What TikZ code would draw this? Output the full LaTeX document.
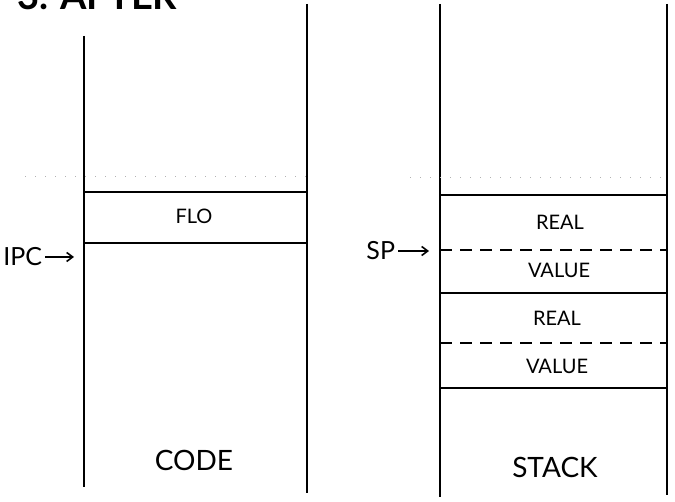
\documentclass[tikz,border=0pt]{standalone}
\usepackage{fontspec}
\setmainfont{Lato}
\usepackage{tikz}
\usetikzlibrary{arrows.meta, positioning}

\begin{document}
\begin{tikzpicture}[x=1pt, y=-1pt, line width=2pt,
        lbl/.style={font=\fontsize{20}{21}\selectfont},
        big/.style={font=\fontsize{28}{29}\selectfont},
        reg/.style={font=\fontsize{25}{26}\selectfont, anchor=east, inner sep=0pt},
        sep/.style={line width=2pt},
        half/.style={line width=2pt, dash pattern=on 12pt off 8pt},
        faint/.style={line width=0.6pt, gray!60, dash pattern=on 1pt off 9pt},
        ptr/.style={-{Straight Barb[length=6pt, width=9pt]}, line width=1.6pt}]
        \useasboundingbox (0,0) rectangle (675,502);
        \node[anchor=base west, font=\bfseries\fontsize{38}{38}\selectfont, inner sep=0pt] (title) at (16,10) {3. AFTER};

        % code
        \coordinate (c1) at (84,36);  \coordinate (c2) at (84,487);
        \coordinate (c3) at (307,4);  \coordinate (c4) at (307,493);
        \draw (c1) -- (c2);
        \draw (c3) -- (c4);
        \draw[faint] (25,176) -- (307,176);
        \draw[sep] (84,192) -- (307,192);
        \draw[sep] (84,243) -- (307,243);
        \node[lbl] (flo) at (194,216) {FLO};
        \node[reg] (ipc) at (43,257) {IPC};
        \coordinate (ipctip) at (74,257);
        \draw[ptr] (ipc.east) ++(2,0) -- (ipctip);
        \node[big] (code) at (194,460) {CODE};

        % stack
        \coordinate (s1) at (440,4);  \coordinate (s2) at (440,497);
        \coordinate (s3) at (667,4);  \coordinate (s4) at (667,495);
        \draw (s1) -- (s2);
        \draw (s3) -- (s4);
        \draw[faint] (410,177) -- (667,177);
        \foreach \y in {195,293,388}
            \draw[sep] (440,\y) -- (667,\y);
        \foreach \y in {250,343}
            \draw[half] (440,\y) -- (667,\y);
        \node[lbl] (real1) at (560,222) {REAL};
        \node[lbl] (val1) at (559,270) {VALUE};
        \node[lbl] (real2) at (557,318) {REAL};
        \node[lbl] (val2) at (557,366) {VALUE};
        \node[reg] (sp) at (396,251) {SP};
        \coordinate (sptip) at (429,251);
        \draw[ptr] (sp.east) ++(2,0) -- (sptip);
        \node[big] (stack) at (555,467) {STACK};
\end{tikzpicture}
\end{document}
